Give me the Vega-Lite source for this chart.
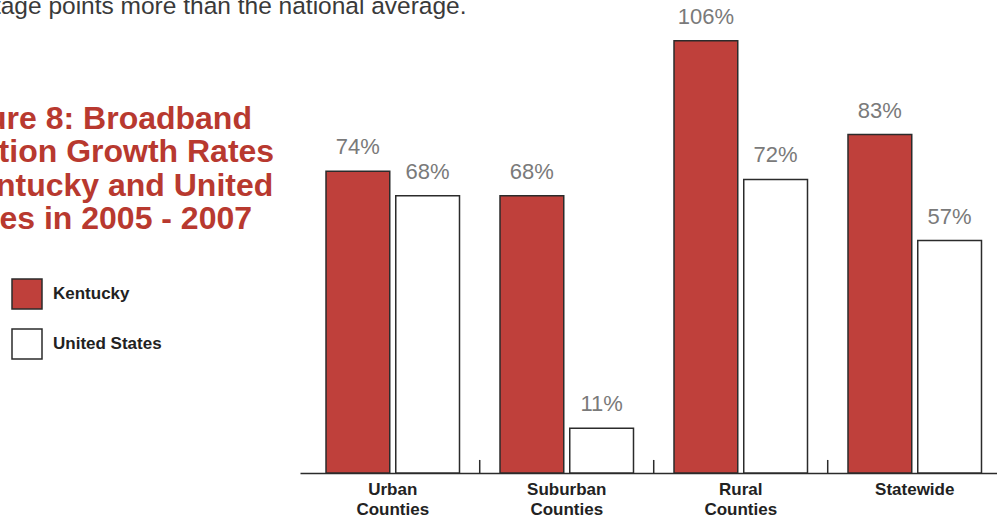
{
  "$schema": "https://vega.github.io/schema/vega-lite/v6.json",
  "width": 697,
  "height": 473,
  "autosize": {"type": "none"},
  "padding": {"left": 300, "top": 0, "right": 0, "bottom": 48},
  "background": "#ffffff",
  "config": {"view": {"stroke": null}, "font": "Liberation Sans"},
  "title": {
    "text": "percentage points more than the national average.",
    "anchor": "start",
    "frame": "group",
    "align": "left",
    "dx": -381,
    "dy": 19,
    "offset": 0,
    "fontSize": 24.5,
    "fontWeight": "normal",
    "color": "#3a3a3a",
    "font": "Liberation Sans"
  },
  "datasets": {
    "rates": [
      {"region": "Urban Counties", "series": "Kentucky", "rate": 0.74},
      {"region": "Urban Counties", "series": "United States", "rate": 0.68},
      {"region": "Suburban Counties", "series": "Kentucky", "rate": 0.68},
      {"region": "Suburban Counties", "series": "United States", "rate": 0.11},
      {"region": "Rural Counties", "series": "Kentucky", "rate": 1.06},
      {"region": "Rural Counties", "series": "United States", "rate": 0.72},
      {"region": "Statewide", "series": "Kentucky", "rate": 0.83},
      {"region": "Statewide", "series": "United States", "rate": 0.57}
    ],
    "dividers": [
      {"region": "Suburban Counties"},
      {"region": "Rural Counties"},
      {"region": "Statewide"}
    ]
  },
  "layer": [
    {
      "data": {"name": "rates"},
      "mark": {"type": "bar", "stroke": "#2b2b2b", "strokeWidth": 1.5},
      "encoding": {
        "x": {
          "field": "region",
          "type": "nominal",
          "scale": {
            "domain": ["Urban Counties", "Suburban Counties", "Rural Counties", "Statewide"],
            "paddingInner": 0.2328,
            "paddingOuter": 0.1193,
            "align": 0.6265
          },
          "axis": {
            "title": null,
            "labelAngle": 0,
            "labelExpr": "split(datum.label, ' ')",
            "labelFontSize": 17,
            "labelFontWeight": "bold",
            "labelColor": "#222222",
            "labelFont": "Liberation Sans",
            "labelPadding": 8,
            "labelBaseline": "top",
            "labelLineHeight": 20,
            "ticks": false,
            "domain": true,
            "domainColor": "#2b2b2b",
            "domainWidth": 1.5
          }
        },
        "xOffset": {
          "field": "series",
          "type": "nominal",
          "scale": {"paddingInner": 0.086, "paddingOuter": 0}
        },
        "y": {
          "field": "rate",
          "type": "quantitative",
          "scale": {"domain": [0, 1.16], "nice": false},
          "axis": {
            "title": ["Figure 8: Broadband", "Adoption Growth Rates", "in Kentucky and United", "States in 2005 - 2007"],
            "titleAngle": 0,
            "titleAlign": "center",
            "titleBaseline": "alphabetic",
            "titleX": -205,
            "titleY": 128,
            "titleFontSize": 32,
            "titleFontWeight": "bold",
            "titleColor": "#b8392f",
            "titleFont": "Liberation Sans",
            "titleLineHeight": 33.5,
            "labels": false,
            "ticks": false,
            "domain": false,
            "grid": false
          }
        },
        "fill": {
          "field": "series",
          "type": "nominal",
          "scale": {"domain": ["Kentucky", "United States"], "range": ["#bf403b", "#ffffff"]},
          "legend": {
            "title": null,
            "orient": "none",
            "legendX": -289,
            "legendY": 278,
            "padding": 0,
            "symbolType": "square",
            "symbolSize": 900,
            "symbolStrokeColor": "#2b2b2b",
            "symbolStrokeWidth": 1.5,
            "rowPadding": 14,
            "labelOffset": 10,
            "labelFontSize": 17,
            "labelFontWeight": "bold",
            "labelColor": "#222222",
            "labelFont": "Liberation Sans"
          }
        }
      }
    },
    {
      "data": {"name": "rates"},
      "mark": {"type": "text", "dy": -17, "baseline": "alphabetic", "align": "center", "fontSize": 22, "color": "#7a7a7a", "font": "Liberation Sans"},
      "encoding": {
        "x": {"field": "region", "type": "nominal"},
        "xOffset": {"field": "series", "type": "nominal"},
        "y": {"field": "rate", "type": "quantitative"},
        "text": {"field": "rate", "type": "quantitative", "format": ".0%"}
      }
    },
    {
      "data": {"name": "dividers"},
      "mark": {"type": "rule", "color": "#2b2b2b", "strokeWidth": 1.5},
      "encoding": {
        "x": {"field": "region", "type": "nominal", "bandPosition": -0.152},
        "y": {"datum": 0},
        "y2": {"datum": 0.032}
      }
    }
  ]
}
